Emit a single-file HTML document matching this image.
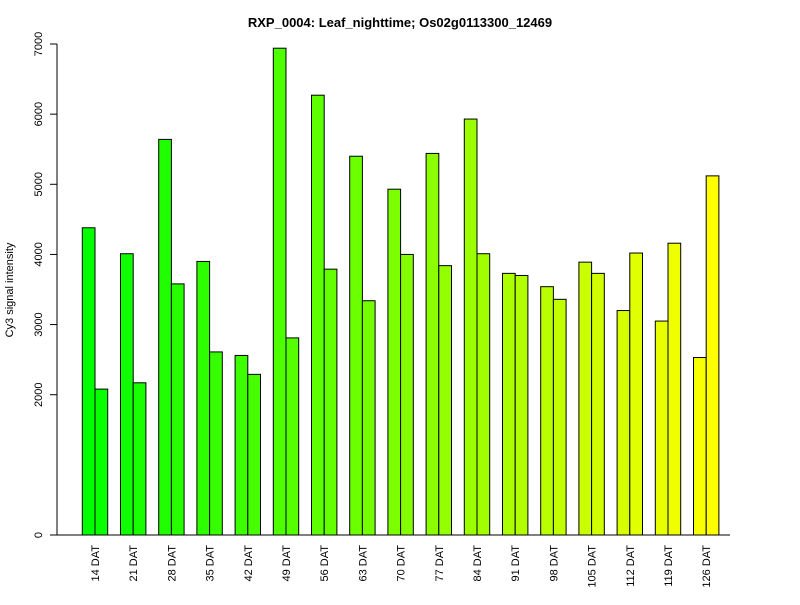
<!DOCTYPE html>
<html><head><meta charset="utf-8"><style>
body{margin:0;background:#fff;font-family:"Liberation Sans",sans-serif}
svg text{font-family:"Liberation Sans",sans-serif}
</style></head><body>
<svg id="chart" width="800" height="600" xmlns="http://www.w3.org/2000/svg">
<text x="400" y="27" text-anchor="middle" font-size="13" font-weight="bold">RXP_0004: Leaf_nighttime; Os02g0113300_12469</text>
<text transform="translate(13,290) rotate(-90)" text-anchor="middle" font-size="11">Cy3 signal intensity</text>
<g id="bars"></g><g id="axes"></g>
</svg>
<script>
const categories=["14 DAT","21 DAT","28 DAT","35 DAT","42 DAT","49 DAT","56 DAT","63 DAT","70 DAT","77 DAT","84 DAT","91 DAT","98 DAT","105 DAT","112 DAT","119 DAT","126 DAT"];
const series1=[4380,4010,5640,3900,2560,6940,6270,5400,4930,5440,5930,3730,3540,3890,3200,3050,2530];
const series2=[2080,2170,3580,2610,2290,2810,3790,3340,4000,3840,4010,3700,3360,3730,4020,4160,5120];
const yTicks=[0,2000,3000,4000,5000,6000,7000];
const NS="http://www.w3.org/2000/svg";
const y0=535,yTop=44,yMax=7000;
function yScale(v){return y0-(v/yMax)*(y0-yTop);}
function xCenter(i){return 95+i*38.2;}
const bw=12.7;
const bars=document.getElementById('bars'),axes=document.getElementById('axes');
function mk(tag,attrs,parent){const e=document.createElementNS(NS,tag);for(const k in attrs)e.setAttribute(k,attrs[k]);parent.appendChild(e);return e;}
const n=categories.length;
categories.forEach((c,i)=>{
  [series1[i],series2[i]].forEach((v,j)=>{
    const t=(i*2+j)/(2*n-1);
    const r=mk('rect',{x:xCenter(i)-bw+j*bw,y:yScale(v),width:bw,height:y0-yScale(v),fill:`rgb(${Math.round(255*t)},255,0)`,stroke:'#000','stroke-width':1},bars);
    
    
  });
  const tx=mk('text',{transform:`translate(${xCenter(i)+4},${545}) rotate(-90)`,'text-anchor':'end','font-size':11},axes);
  tx.textContent=c;
  
  
});
const bl=mk('line',{x1:57,x2:730,y1:y0,y2:y0,stroke:'#000'},axes);


const yl=mk('line',{x1:57,x2:57,y1:yScale(0),y2:yScale(7000),stroke:'#000'},axes);


yTicks.forEach(v=>{
  const tk=mk('line',{x1:50,x2:57,y1:yScale(v),y2:yScale(v),stroke:'#000'},axes);
  
  
  const t=mk('text',{transform:`translate(42,${yScale(v)}) rotate(-90)`,'text-anchor':'middle','font-size':11},axes);
  t.textContent=v;
  
  
});
</script>
</body></html>
